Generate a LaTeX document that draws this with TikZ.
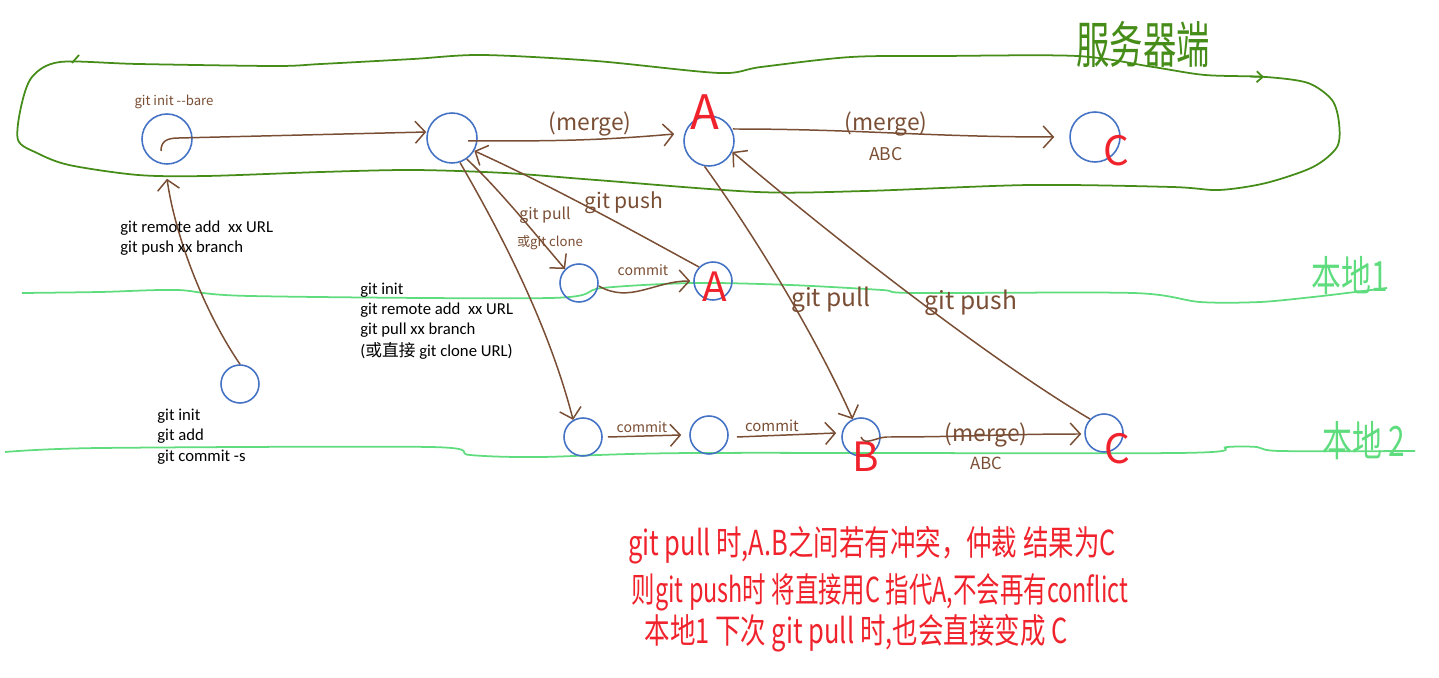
\documentclass[tikz,border=0pt]{standalone}
\usepackage{fontspec}
\setmainfont{Carlito}
\newfontfamily\cjk{Noto Sans CJK SC}
\usetikzlibrary{arrows.meta,calc,positioning}

\definecolor{pen}{RGB}{122,78,52}
\definecolor{ring}{RGB}{68,114,196}
\definecolor{srv}{RGB}{70,140,25}
\definecolor{loc}{RGB}{95,220,125}
\definecolor{mark}{RGB}{240,35,45}

\tikzset{
    bignode/.style={circle, draw=ring, line width=0.9pt, minimum size=1cm, inner sep=0pt},
    smallnode/.style={circle, draw=ring, line width=0.9pt, minimum size=0.76cm, inner sep=0pt},
    flow/.style={draw=pen, line width=0.85pt, -{Straight Barb[length=2mm,width=4.4mm]}},
    hand/.style={text=pen, inner sep=0pt},
    tag/.style={text=mark, inner sep=0pt, font=\cjk\fontsize{23}{25}\selectfont},
    cmd/.style={align=left, anchor=base west, inner sep=0pt, font=\fontsize{9.5}{11.4}\selectfont},
    remark/.style={text=mark, inner sep=0pt, font=\cjk\fontsize{14.5}{16}\selectfont},
    laneline/.style={draw=loc, line width=1pt},
    lanename/.style={text=loc, inner sep=0pt, font=\cjk\fontsize{17}{19}\selectfont}
}

\begin{document}
\begin{tikzpicture}[x=0.02cm, y=-0.02cm]
    \useasboundingbox (0,0) rectangle (1439,678);

    \draw[draw=srv, line width=1pt] plot[smooth cycle, tension=0.5] coordinates {
        (60,62) (138,64) (275,66) (321,64) (413,59) (482,55) (596,61) (719,73)
        (761,67) (851,57) (941,56) (1077,56) (1153,67) (1205,75)
        (1266,77) (1308,83) (1332,100) (1339,123) (1337,147) (1313,167)
        (1266,183) (1219,190) (1172,187) (1030,185) (865,191) (757,192)
        (596,180) (505,173) (413,170) (321,172) (206,176) (138,175) (69,165)
        (37,153) (18,140) (21,107) (32,77)};
    \draw[draw=srv, line width=1pt] (72,63) -- (79,55);
    \draw[draw=srv, line width=1pt, -{Straight Barb[length=1.2mm,width=2.2mm]}] (1250,76.5) -- (1264,77);
    \node (server) [text=srv, inner sep=0pt, font=\cjk\fontsize{19}{21}\selectfont] at (1143,45) {\scalebox{1}[1.5]{服务器端}};

    \draw[laneline] plot[smooth, tension=0.5] coordinates {
        (22,293) (100,292) (177,290) (250,296) (550,298) (602,288) (694,283)
        (790,285) (882,290) (914,293) (1133,293) (1200,302) (1260,302)
        (1313,297) (1347,293) (1387,288)};
    \node (local1) [lanename] at (1350,276) {\scalebox{1}[1.4]{本地1}};

    \draw[laneline] plot[smooth, tension=0.5] coordinates {
        (5,452) (100,448) (430,447) (470,455) (540,457) (694,453) (1177,453)
        (1227,447) (1257,447) (1280,451) (1415,451)};
    \node (local2) [lanename] at (1364,441) {\scalebox{1}[1.4]{本地 2}};

    \node (bare) [bignode] at (167,139) {};
    \node (hub) [bignode] at (452,138) {};
    \node (srvA) [bignode] at (709,141) {};
    \node (srvC) [bignode] at (1095,137) {};
    \node (first) [smallnode] at (240,384) {};
    \node (oneP) [smallnode] at (579,283) {};
    \node (oneA) [smallnode] at (713,281) {};
    \node (twoP) [smallnode] at (583,437) {};
    \node (twoM) [smallnode] at (709,435) {};
    \node (twoB) [smallnode] at (861,437) {};
    \node (twoC) [smallnode] at (1104,433) {};

    \node (tagA1) [tag, font=\cjk\fontsize{27}{29}\selectfont] at (705,112) {A};
    \node (tagC1) [tag] at (1116,151) {C};
    \node (tagA2) [tag] at (715,287) {A};
    \node (tagB) [tag] at (866,457) {B};
    \node (tagC2) [tag] at (1117,449) {C};

    \node (bareinit) [hand, font=\cjk\fontsize{7.5}{9}\selectfont] at (174,102) {git init --bare};

    \draw[flow] (first.north) .. controls (203,310) and (175,235) .. ($(bare.south)+(0,14)$);
    \draw[flow] ($(bare.center)+(-6,12)$) .. controls ($(bare.center)+(-6,2)$) and ($(bare.center)+(0,-1)$) .. ($(bare.center)+(12,-1)$) -- ($(hub.west)+(0,-6)$);

    \draw[flow] ($(hub.center)+(16,3)$) to[out=0, in=185] ($(srvA.west)+(-9,-7)$);
    \node (merge1) [hand, font=\cjk\fontsize{13}{15}\selectfont] at (590,124) {(merge)};

    \draw[flow] ($(srvA.east)+(-2,-12)$) to[out=0, in=180] ($(srvC.west)+(-15,0)$);
    \node (merge2) [hand, font=\cjk\fontsize{13}{15}\selectfont] at (886,124) {(merge)};
    \node (abc1) [hand, font=\cjk\fontsize{10}{12}\selectfont, below=6pt of merge2] {ABC};

    \draw[flow] (hub.-55) .. controls (500,190) and (540,240) .. (oneP.135);
    \node (pull1) [hand, font=\cjk\fontsize{9}{11}\selectfont] at (545,215) {git pull};
    \node (clone1) [hand, font=\cjk\fontsize{7.5}{9}\selectfont] at (550,243) {或git clone};

    \draw[flow] (hub.-72) .. controls (505,240) and (550,330) .. (twoP.120);

    \draw[flow] (oneA.north west) .. controls (640,235) and (560,190) .. (hub.-30);
    \node (push1) [hand, font=\cjk\fontsize{12}{14}\selectfont] at (624,203) {git push};

    \draw[flow] ($(oneP.east)+(0,3)$) to[out=-30, in=180] ($(oneA.west)+(-3,0)$);
    \node (commit1) [hand, font=\cjk\fontsize{8}{10}\selectfont] at (643,270) {commit};

    \draw[flow] ($(twoP.east)+(5,0)$) -- ($(twoM.west)+(-8,0)$);
    \node (commit2) [hand, font=\cjk\fontsize{8}{10}\selectfont] at (642,427) {commit};

    \draw[flow] ($(twoM.east)+(8,2)$) -- ($(twoB.west)+(-5,-4)$);
    \node (commit3) [hand, font=\cjk\fontsize{8.5}{10}\selectfont] at (772,426) {commit};

    \draw[flow] (srvA.-100) .. controls (765,250) and (822,350) .. (twoB.115);
    \node (pull2) [hand, font=\cjk\fontsize{14}{16}\selectfont] at (831,300) {git pull};

    \draw[flow] (twoC.north west) .. controls (990,360) and (830,235) .. (srvA.-25);
    \node (push2) [hand, font=\cjk\fontsize{14}{16}\selectfont] at (971,303) {git push};

    \draw[flow] (twoB.center) to[out=-70, in=180] ($(twoB.east)+(6,0)$) to[out=0, in=180] ($(twoC.west)+(-3,1)$);
    \node (merge3) [hand, font=\cjk\fontsize{13}{15}\selectfont] at (986,435) {(merge)};
    \node (abc2) [hand, font=\cjk\fontsize{9.5}{11}\selectfont, below=5pt of merge3] {ABC};

    \node (cmdA) [cmd] at (120,253) {git remote add\ \ xx URL\\git push xx branch};
    \node (cmdB) [cmd] at (360,357) {git init\\git remote add\ \ xx URL\\git pull xx branch\\[1.5pt]({\cjk 或直接} git clone URL)};
    \node (cmdC) [cmd] at (157,461) {git init\\git add\\git commit -s};

    \node (note1) [remark] at (872,545) {\scalebox{1}[1.35]{git pull 时,A.B之间若有冲突，仲裁 结果为C}};
    \node (note2) [remark] at (880,592) {\scalebox{0.92}[1.35]{则git push时 将直接用C 指代A,不会再有conflict}};
    \node (note3) [remark] at (856,633) {\scalebox{1}[1.35]{本地1 下次 git pull 时,也会直接变成 C}};
\end{tikzpicture}
\end{document}
